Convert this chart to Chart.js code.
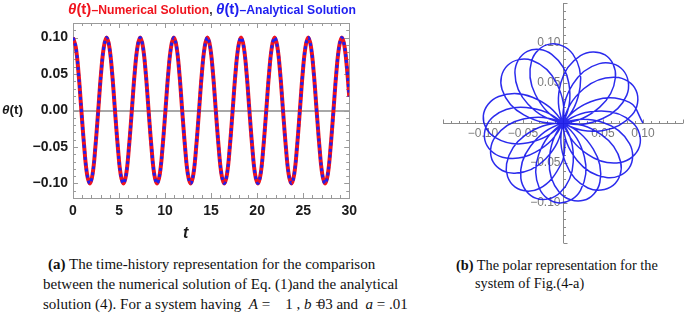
<!DOCTYPE html>
<html>
<head>
<meta charset="utf-8">
<script src="https://cdn.jsdelivr.net/npm/chart.js@4.4.1/dist/chart.umd.min.js"></script>
<style>
  html, body { margin: 0; padding: 0; background: #fff; }
  body { width: 685px; height: 313px; position: relative; overflow: hidden; }
  #timeWrap { position: absolute; left: 0; top: 0; width: 362px; height: 245px; }
  #polarWrap { position: absolute; left: 440px; top: 0; width: 245px; height: 250px; }
  .sans { font-family: 'Liberation Sans', Arial, sans-serif; font-weight: bold; position: absolute; white-space: nowrap; }
  .title { left: 68px; top: 0px; font-size: 12.2px; line-height: 17px; }
  .big { font-size: 15px; }
  .ylab { left: 2px; top: 102px; font-size: 13.5px; color: #1a1a1a; }
  .xlab { left: 183px; top: 224px; font-size: 16px; font-style: italic; color: #1a1a1a; }
  .cap { position: absolute; font-family: 'Liberation Serif', 'Times New Roman', serif; font-size: 15px; color: #111; white-space: nowrap; }
</style>
</head>
<body>
<div id="timeWrap"><canvas id="timeChart" width="362" height="245"></canvas></div>
<div id="polarWrap"><canvas id="polarChart" width="245" height="250"></canvas></div>

<div class="sans title"><span style="color:#f0141e"><span class="big"><i>θ</i>(t)</span>–Numerical Solution</span><span style="color:#333">, </span><span style="color:#1e1ef0"><span class="big"><i>θ</i>(t)</span>–Analytical Solution</span></div>
<div class="sans ylab"><i>θ</i>(t)</div>
<div class="sans xlab">t</div>

<div class="cap" style="left:48px; top:256px;"><b>(a)</b> The time-history representation for the comparison</div>
<div class="cap" style="left:43px; top:276px;">between the numerical solution of Eq. (1)and the analytical</div>
<div class="cap" style="left:43px; top:296px;">solution (4). For a system having&nbsp; <i>A</i> =&nbsp;&nbsp;&nbsp; 1 , <i>b</i> <span style="margin-right:-6px">=</span>03 and&nbsp; <i>a</i> = .01</div>
<div class="cap" style="left:456px; top:257px; font-size:14.3px;"><b>(b)</b> The polar representation for the</div>
<div class="cap" style="left:475px; top:275px; font-size:14.3px;">system of Fig.(4-a)</div>

<script>
// time samples (~12 per oscillation)
const tVals = [
  0, 0.30, 0.61, 0.91, 1.22, 1.52, 1.83, 2.13, 2.43, 2.74, 3.04, 3.35,
  3.65, 3.95, 4.26, 4.56, 4.87, 5.17, 5.48, 5.78, 6.08, 6.39, 6.69, 7.00,
  7.30, 7.60, 7.91, 8.21, 8.52, 8.82, 9.13, 9.43, 9.73, 10.04, 10.34, 10.65,
  10.95, 11.25, 11.56, 11.86, 12.17, 12.47, 12.78, 13.08, 13.38, 13.69, 13.99, 14.30,
  14.60, 14.90, 15.21, 15.51, 15.82, 16.12, 16.43, 16.73, 17.03, 17.34, 17.64, 17.95,
  18.25, 18.55, 18.86, 19.16, 19.47, 19.77, 20.08, 20.38, 20.68, 20.99, 21.29, 21.60,
  21.90, 22.20, 22.51, 22.81, 23.12, 23.42, 23.73, 24.03, 24.33, 24.64, 24.94, 25.25,
  25.55, 25.85, 26.16, 26.46, 26.77, 27.07, 27.38, 27.68, 27.98, 28.29, 28.59, 28.90,
  29.20, 29.50, 29.81, 30.00
];
// numerical solution theta(t)
const thetaNum = [
  0.100, 0.087, 0.050, 0.000, -0.050, -0.087, -0.100, -0.087, -0.050, 0.000, 0.050, 0.087,
  0.100, 0.087, 0.050, 0.000, -0.050, -0.087, -0.100, -0.087, -0.050, 0.000, 0.050, 0.087,
  0.100, 0.087, 0.050, 0.000, -0.050, -0.087, -0.100, -0.087, -0.050, 0.000, 0.050, 0.087,
  0.100, 0.087, 0.050, 0.000, -0.050, -0.087, -0.100, -0.087, -0.050, 0.000, 0.050, 0.087,
  0.100, 0.087, 0.050, 0.000, -0.050, -0.087, -0.100, -0.087, -0.050, 0.000, 0.050, 0.087,
  0.100, 0.087, 0.050, 0.000, -0.050, -0.087, -0.100, -0.087, -0.050, 0.000, 0.050, 0.087,
  0.100, 0.087, 0.050, 0.000, -0.050, -0.087, -0.100, -0.087, -0.050, 0.000, 0.050, 0.087,
  0.100, 0.087, 0.050, 0.000, -0.050, -0.087, -0.100, -0.087, -0.050, 0.000, 0.050, 0.087,
  0.100, 0.087, 0.050, 0.019
];
// analytical solution lies on top of the numerical one
const thetaAna = thetaNum.slice();

const xTickVals = [0, 5, 10, 15, 20, 25, 30];
const yTickVals = [-0.10, -0.05, 0.00, 0.05, 0.10];
const polarTickVals = [-0.10, -0.05, 0.05, 0.10];

const fmtNum = v => (v < 0 ? '\u2212' : '') + Math.abs(v).toFixed(2);
const sansBold = { family: "'Liberation Sans', Arial, sans-serif", size: 14, weight: 'bold' };

// Mathematica style frame: grey box, inward ticks on all sides, zero line
const framePlugin = {
  id: 'frame',
  beforeDatasetsDraw(chart) {
    const { ctx, chartArea: a, scales: { x, y } } = chart;
    ctx.save();
    ctx.setLineDash([]);
    ctx.strokeStyle = '#a8a8a8';
    ctx.lineWidth = 2;
    const y0 = Math.round(y.getPixelForValue(0));
    ctx.beginPath(); ctx.moveTo(a.left, y0); ctx.lineTo(a.right, y0); ctx.stroke();
    ctx.lineWidth = 1;
    ctx.strokeStyle = '#9a9a9a';
    ctx.strokeRect(Math.round(a.left) + 0.5, Math.round(a.top) + 0.5, Math.round(a.right - a.left), Math.round(a.bottom - a.top));
    ctx.beginPath();
    for (let i = 0; i <= 30; i++) {
      const px = Math.round(x.getPixelForValue(i)) + 0.5;
      const len = i % 5 === 0 ? 5 : 3;
      ctx.moveTo(px, a.bottom); ctx.lineTo(px, a.bottom - len);
      ctx.moveTo(px, a.top); ctx.lineTo(px, a.top + len);
    }
    for (let i = -12; i <= 12; i++) {
      const py = Math.round(y.getPixelForValue(i / 100)) + 0.5;
      const len = i % 5 === 0 ? 5 : 3;
      ctx.moveTo(a.left, py); ctx.lineTo(a.left + len, py);
      ctx.moveTo(a.right, py); ctx.lineTo(a.right - len, py);
    }
    ctx.stroke();
    ctx.restore();
  }
};

new Chart(document.getElementById('timeChart'), {
  type: 'scatter',
  data: {
    datasets: [
      { label: 'Analytical', data: tVals.map((t, i) => ({ x: t, y: thetaAna[i] })), showLine: true, fill: false, borderColor: '#1e1ef0', borderWidth: 3, borderDash: [3, 3], pointRadius: 0, tension: 0.4, order: 0 },
      { label: 'Numerical', data: tVals.map((t, i) => ({ x: t, y: thetaNum[i] })), showLine: true, fill: false, borderColor: '#f0141e', borderWidth: 4, pointRadius: 0, tension: 0.4, order: 1 }
    ]
  },
  options: {
    responsive: false,
    animation: false,
    layout: { padding: { top: 23, right: 7, left: 0, bottom: 0 }, autoPadding: false },
    plugins: { legend: { display: false }, tooltip: { enabled: false } },
    scales: {
      x: {
        min: 0, max: 30,
        grid: { display: false, drawTicks: false }, border: { display: false },
        afterBuildTicks: s => { s.ticks = xTickVals.map(v => ({ value: v })); },
        afterFit: s => { s.height = 47; },
        ticks: { font: sansBold, color: '#1a1a1a', padding: 5, maxRotation: 0 }
      },
      y: {
        min: -0.12, max: 0.12,
        grid: { display: false, drawTicks: false }, border: { display: false },
        afterBuildTicks: s => { s.ticks = yTickVals.map(v => ({ value: v })); },
        afterFit: s => { s.width = 73; },
        ticks: { font: sansBold, color: '#1a1a1a', padding: 5, callback: v => fmtNum(v) }
      }
    }
  },
  plugins: [framePlugin]
});

// axes crossing at the origin for the polar view
const crossAxesPlugin = {
  id: 'crossAxes',
  beforeDatasetsDraw(chart) {
    const { ctx, chartArea: a, scales: { x, y } } = chart;
    const ox = Math.round(x.getPixelForValue(0)) + 0.5;
    const oy = Math.round(y.getPixelForValue(0)) + 0.5;
    ctx.save();
    ctx.strokeStyle = '#8a8a8a';
    ctx.lineWidth = 1;
    ctx.beginPath();
    ctx.moveTo(a.left, oy); ctx.lineTo(a.right, oy);
    ctx.moveTo(ox, a.top); ctx.lineTo(ox, a.bottom);
    for (let i = -15; i <= 15; i++) {
      if (i === 0) continue;
      const len = i % 5 === 0 ? 4 : 2.5;
      const px = Math.round(x.getPixelForValue(i / 100)) + 0.5;
      const py = Math.round(y.getPixelForValue(i / 100)) + 0.5;
      ctx.moveTo(px, oy); ctx.lineTo(px, oy - len);
      ctx.moveTo(ox, py); ctx.lineTo(ox + len, py);
    }
    ctx.stroke();
    ctx.fillStyle = '#7a7a7a';
    ctx.font = "12px 'Liberation Sans', Arial, sans-serif";
    ctx.textAlign = 'center'; ctx.textBaseline = 'top';
    polarTickVals.forEach(v => ctx.fillText(fmtNum(v), x.getPixelForValue(v), oy + 4));
    ctx.textAlign = 'right'; ctx.textBaseline = 'middle';
    polarTickVals.forEach(v => ctx.fillText(fmtNum(v), ox - 3, y.getPixelForValue(v)));
    ctx.restore();
  }
};

new Chart(document.getElementById('polarChart'), {
  type: 'scatter',
  data: {
    datasets: [{
      label: 'Polar',
      data: tVals.map((t, i) => ({ x: thetaNum[i] * Math.cos(t), y: thetaNum[i] * Math.sin(t) })),
      showLine: true, fill: false, borderColor: 'rgba(20,20,235,0.9)', borderWidth: 1.5, pointRadius: 0, tension: 0.4
    }]
  },
  options: {
    responsive: false,
    animation: false,
    layout: { padding: { top: 3, left: 3, right: 2, bottom: 7 }, autoPadding: false },
    plugins: { legend: { display: false }, tooltip: { enabled: false } },
    scales: {
      x: { display: false, min: -0.15, max: 0.15 },
      y: { display: false, min: -0.15, max: 0.15 }
    }
  },
  plugins: [crossAxesPlugin]
});
</script>
</body>
</html>
